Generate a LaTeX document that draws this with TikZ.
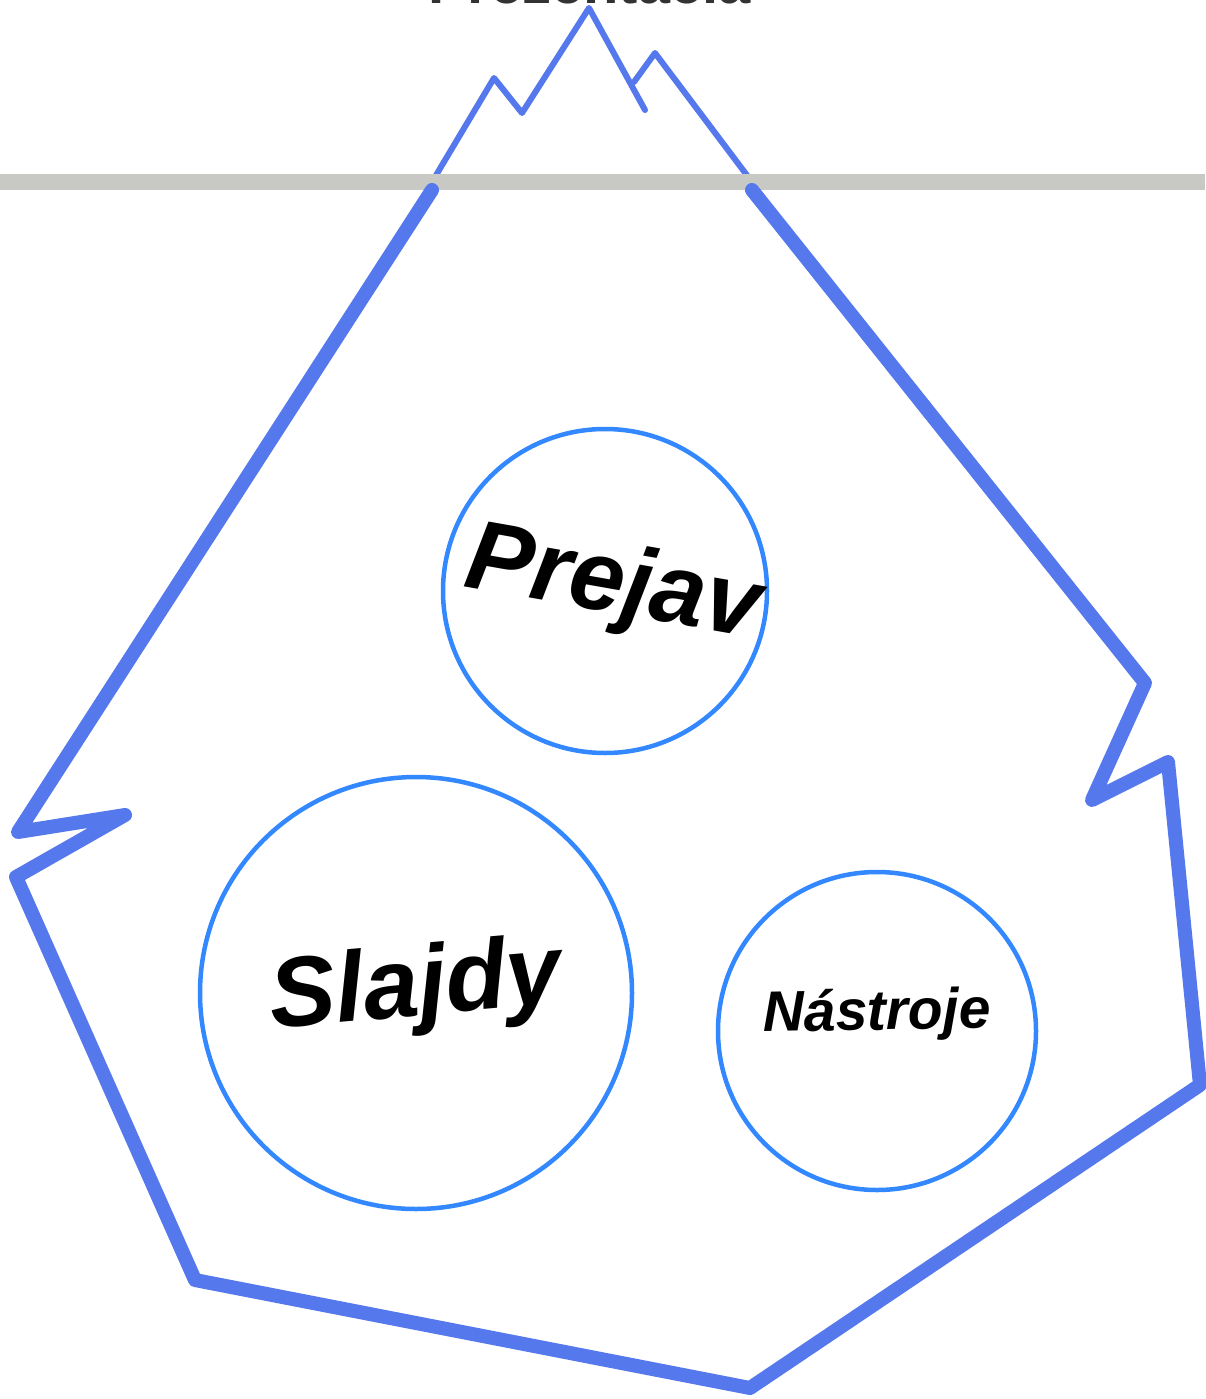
\documentclass[tikz,border=0pt]{standalone}
\usepackage{fontspec}
\setmainfont{Liberation Sans}
\definecolor{ice}{HTML}{5578EC}
\definecolor{ring}{HTML}{3388FF}
\definecolor{water}{HTML}{C8C8C4}
\definecolor{title}{HTML}{333333}
\begin{document}
\begin{tikzpicture}[x=1pt,y=-1pt,
  thinice/.style={draw=ice,line width=6pt,line join=round,line cap=round},
  thickice/.style={draw=ice,line width=14pt,line join=round,line cap=round},
  topic/.style={circle,draw=ring,line width=4.5pt,inner sep=0pt},
  lbl/.style={font=\bfseries\itshape,text=black,inner sep=0pt}]
\useasboundingbox (0,0) rectangle (1205,1399);
% title (cut off at top)
\node[anchor=base,text=title,font=\fontsize{58}{60}\selectfont\bfseries,inner sep=0pt] (title) at (590,4) {Prezentácia};
% tip above water
\draw[thinice] (432,182) -- (494,78) -- (522,113) -- (589,8) -- (645,110);
\draw[thinice] (634,82) -- (655,53) -- (752,182);
% water line
\draw[water,line width=16pt] (0,182) -- (1205,182);
% submerged part
\draw[thickice] (432,190) -- (18,832) -- (125,815) -- (16,877) -- (195,1280) -- (750,1388) -- (1200,1085) -- (1168,762) -- (1092,800) -- (1145,683) -- (752,190);
% circles
\node[topic,minimum size=324pt] (prejav) at (605,591) {};
\node[topic,minimum size=432pt] (slajdy) at (416,993) {};
\node[topic,minimum size=318pt] (nastroje) at (877,1031) {};
% labels
\node[lbl,font=\fontsize{99}{100}\selectfont\bfseries\itshape,rotate=-10] (tprejav) at (613,587) {Prejav};
\node[lbl,font=\fontsize{99}{100}\selectfont\bfseries\itshape,rotate=5] (tslajdy) at (416,990) {Slajdy};
\node[lbl,font=\fontsize{57}{60}\selectfont\bfseries\itshape,rotate=1] (tnastroje) at (877,1015) {Nástroje};
\end{tikzpicture}
\end{document}
